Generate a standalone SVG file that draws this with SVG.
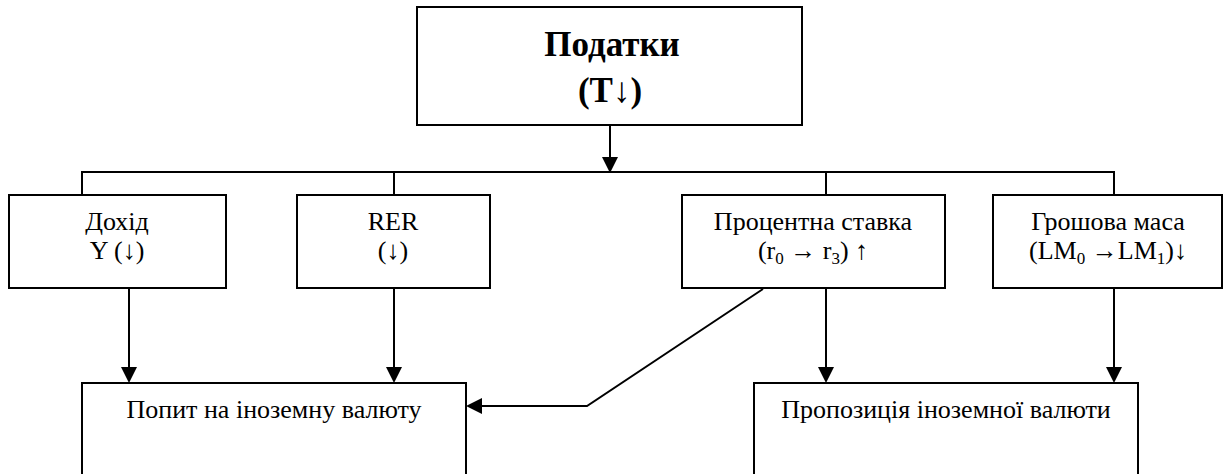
<svg xmlns="http://www.w3.org/2000/svg" width="1232" height="474" viewBox="0 0 1232 474">
<defs>
<marker id="ah" markerWidth="8" markerHeight="8" refX="7" refY="4" orient="auto" markerUnits="strokeWidth">
<path d="M0,0 L8,4 L0,8 Z" fill="#000"/>
</marker>
<style>
.box{fill:#fff;stroke:#000;stroke-width:2}
.t{font-family:"Liberation Serif","Times New Roman",serif;font-size:26px;fill:#000;text-anchor:middle}
.tb{font-family:"Liberation Serif","Times New Roman",serif;font-size:35px;font-weight:bold;fill:#000;text-anchor:middle}
.ln{fill:none;stroke:#000;stroke-width:2}
.ar{fill:none;stroke:#000;stroke-width:2;marker-end:url(#ah)}
</style>
</defs>
<rect width="1232" height="474" fill="#fff"/>
<g id="connectors">
<line class="ar" x1="610" y1="125" x2="610" y2="171"/>
<polyline class="ln" points="82,195 82,172 1114,172 1114,195"/>
<line class="ln" x1="394" y1="172" x2="394" y2="195"/>
<line class="ln" x1="826" y1="172" x2="826" y2="195"/>
<line class="ar" x1="129" y1="288" x2="129" y2="381"/>
<line class="ar" x1="394" y1="288" x2="394" y2="381"/>
<line class="ar" x1="826" y1="288" x2="826" y2="381"/>
<line class="ar" x1="1114" y1="288" x2="1114" y2="381"/>
<polyline class="ar" points="763,289 587,406 468,406"/>
</g>
<g id="node-taxes">
<rect class="box" x="417" y="7" width="385" height="118"/>
<text class="tb" x="612" y="56">Податки</text>
<text class="tb" x="610" y="102">(T↓)</text>
</g>
<g id="node-income">
<rect class="box" x="9" y="195" width="217" height="93"/>
<text class="t" x="117" y="230">Дохід</text>
<text class="t" x="117" y="259">Y (↓)</text>
</g>
<g id="node-rer">
<rect class="box" x="297" y="195" width="193" height="93"/>
<text class="t" x="393" y="230">RER</text>
<text class="t" x="393" y="259">(↓)</text>
</g>
<g id="node-rate">
<rect class="box" x="682" y="195" width="263" height="93"/>
<text class="t" x="813" y="230">Процентна ставка</text>
<text class="t" x="813" y="259">(r<tspan font-size="17" dy="5">0</tspan><tspan dy="-5"> → r</tspan><tspan font-size="17" dy="5">3</tspan><tspan dy="-5">) ↑</tspan></text>
</g>
<g id="node-money">
<rect class="box" x="993" y="195" width="229" height="93"/>
<text class="t" x="1108" y="230">Грошова маса</text>
<text class="t" x="1108" y="259">(LM<tspan font-size="17" dy="5">0</tspan><tspan dy="-5"> →LM</tspan><tspan font-size="17" dy="5">1</tspan><tspan dy="-5">)↓</tspan></text>
</g>
<g id="node-demand">
<rect class="box" x="82" y="383" width="384" height="100"/>
<text class="t" x="274" y="418">Попит на іноземну валюту</text>
</g>
<g id="node-supply">
<rect class="box" x="754" y="383" width="384" height="100"/>
<text class="t" x="946" y="418">Пропозиція іноземної валюти</text>
</g>
</svg>
